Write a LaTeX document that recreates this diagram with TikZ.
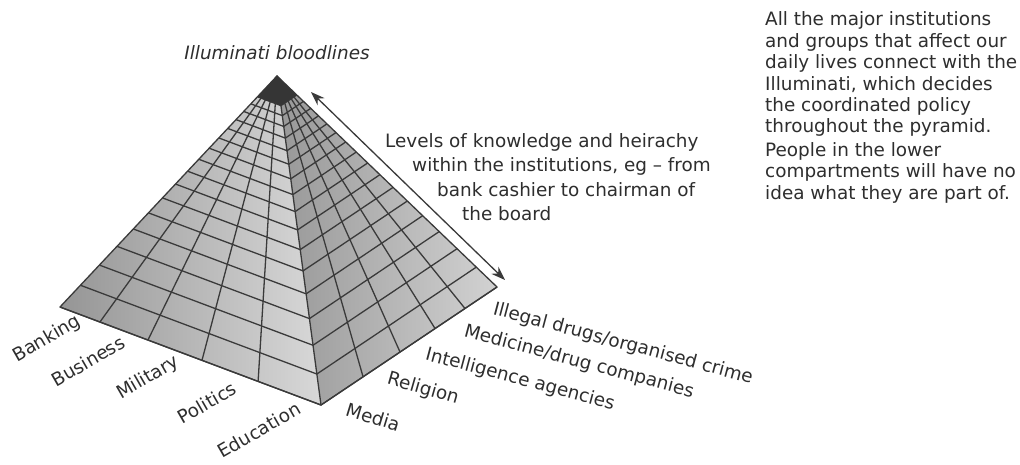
\documentclass[tikz,border=0pt]{standalone}
\usepackage{fontspec}
\setmainfont{DejaVu Sans}
\usetikzlibrary{arrows.meta,calc}
\definecolor{ink}{HTML}{2E2E2E}
\definecolor{gridc}{HTML}{3A3A3A}
\definecolor{capc}{HTML}{353535}
\definecolor{lfdark}{HTML}{959595}
\definecolor{lflight}{HTML}{D8D8D8}
\definecolor{rfdark}{HTML}{989898}
\definecolor{rflight}{HTML}{D2D2D2}
\begin{document}
\begin{tikzpicture}[x=1pt,y=-1pt,
  every node/.style={text=ink, inner sep=0pt},
  lab/.style={font=\fontsize{18.4}{21.4}\selectfont},
  gridline/.style={draw=gridc, line width=1.3pt},
  levelarrow/.style={draw=gridc, line width=1.3pt, >={Stealth[length=14pt,width=10pt]}, <->}]
\useasboundingbox[fill=white] (0,0) rectangle (1020,464);
\coordinate (A) at (277,76);
\coordinate (L) at (60,307);
\coordinate (F) at (321,405);
\coordinate (R) at (497,287);
\shade[left color=lfdark, right color=lflight] (A) -- (L) -- (F) -- cycle;
\shade[left color=rfdark, right color=rflight] (A) -- (F) -- (R) -- cycle;
% rows
\foreach \k in {0,...,16}{
  \pgfmathsetmacro{\t}{0.39*exp(0.07525*\k)-0.3}
  \draw[gridline] ($(A)!\t!(L)$) -- ($(A)!\t!(F)$) -- ($(A)!\t!(R)$);
}
% columns
\foreach \f in {0.153,0.337,0.544,0.759}{
  \draw[gridline] (A) -- ($(L)!\f!(F)$);
}
\foreach \f in {0.239,0.449,0.648,0.818}{
  \draw[gridline] (A) -- ($(F)!\f!(R)$);
}
\draw[gridline, line join=round] (A) -- (L) -- (F) -- (R) -- cycle;
\draw[gridline] (A) -- (F);
% cap
\fill[capc] (A) -- ($(A)!0.09!(L)$) -- ($(A)!0.09!(F)$) -- ($(A)!0.09!(R)$) -- cycle;
% arrow
\coordinate (arT) at (311,92);
\coordinate (arB) at (505,280);
\draw[levelarrow] (arT) -- (arB);
% top label
\node[lab, font=\fontsize{18.4}{21.4}\selectfont\itshape] (top) at (277,53) {Illuminati bloodlines};
% middle text
\node[lab, anchor=base west] (lv1) at (385,147) {Levels of knowledge and heirachy};
\node[lab, anchor=base west] (lv2) at (412,171) {within the institutions, eg – from};
\node[lab, anchor=base west] (lv3) at (437,196) {bank cashier to chairman of};
\node[lab, anchor=base west] (lv4) at (462,220) {the board};
% right paragraphs
\node[lab, anchor=base west] (p1) at (765,25) {All the major institutions};
\node[lab, anchor=base west] (p2) at (765,47) {and groups that affect our};
\node[lab, anchor=base west] (p3) at (765,68) {daily lives connect with the};
\node[lab, anchor=base west] (p4) at (765,90) {Illuminati, which decides};
\node[lab, anchor=base west] (p5) at (765,111) {the coordinated policy};
\node[lab, anchor=base west] (p6) at (765,132) {throughout the pyramid.};
\node[lab, anchor=base west] (q1) at (765,156) {People in the lower};
\node[lab, anchor=base west] (q2) at (765,177) {compartments will have no};
\node[lab, anchor=base west] (q3) at (765,199) {idea what they are part of.};
% left labels
\node[lab, rotate=30] (bank) at (47,339) {Banking};
\node[lab, rotate=30] (busi) at (88,361) {Business};
\node[lab, rotate=30] (mili) at (148,378) {Military};
\node[lab, rotate=30] (poli) at (207,403) {Politics};
\node[lab, rotate=30] (educ) at (259,430) {Education};
% right labels
\node[lab, rotate=-17] (medi) at (373,417) {Media};
\node[lab, rotate=-16] (reli) at (423,389) {Religion};
\node[lab, rotate=-15] (inte) at (520,380) {Intelligence agencies};
\node[lab, rotate=-15] (medc) at (579,362) {Medicine/drug companies};
\node[lab, rotate=-15] (ille) at (623,344) {Illegal drugs/organised crime};
\end{tikzpicture}
\end{document}
